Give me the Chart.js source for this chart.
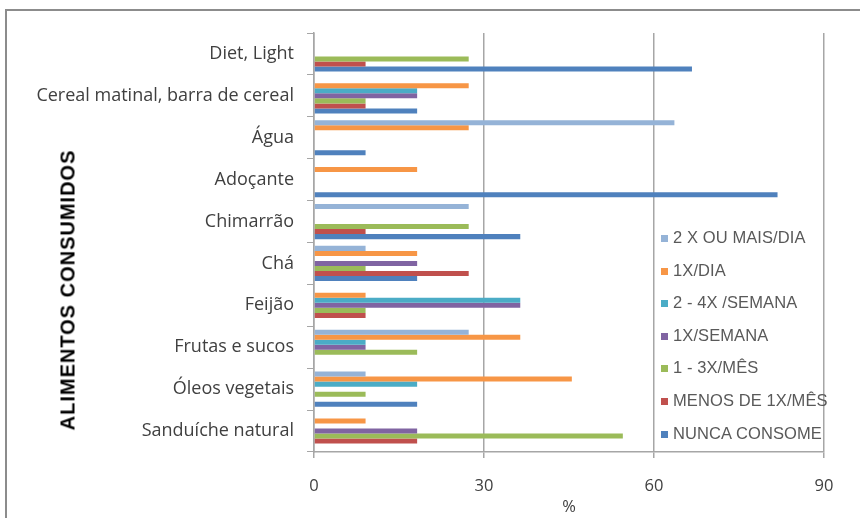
<!DOCTYPE html>
<html>
<head>
<meta charset="utf-8">
<script src="https://cdn.jsdelivr.net/npm/chart.js@4.4.1/dist/chart.umd.min.js"></script>
<style>
    html, body {
        margin: 0;
        padding: 0;
        background: #fff;
    }
    #wrap {
        position: relative;
        width: 860px;
        height: 518px;
        overflow: hidden;
    }
    #frame {
        position: absolute;
        left: 5px;
        top: 9px;
        width: 900px;
        height: 600px;
        border: 2px solid #8c8c8c;
        box-sizing: border-box;
    }
    #chart {
        position: absolute;
        left: 0;
        top: 0;
    }
    #ytitle {
        position: absolute;
        left: 68px;
        top: 290px;
        transform: translate(-50%, -50%) rotate(-90deg);
        font: bold 20px "Liberation Sans", Arial, sans-serif;
        letter-spacing: 1px;
        color: #000;
        white-space: nowrap;
    }
    #legend {
        position: absolute;
        left: 661px;
        top: 228px;
    }
    .legend-item {
        height: 32.6px;
        line-height: 32.6px;
        font: 16.5px "Liberation Sans", Arial, sans-serif;
        letter-spacing: 0.1px;
        color: #595959;
        white-space: nowrap;
    }
    .legend-box {
        display: inline-block;
        width: 7px;
        height: 7px;
        margin-right: 5px;
        vertical-align: 1px;
    }
</style>
</head>
<body>
<div id="wrap">
    <div id="frame"></div>
    <canvas id="chart" width="860" height="518"></canvas>
    <div id="ytitle">ALIMENTOS CONSUMIDOS</div>
    <div id="legend"></div>
</div>
<script>
// Consumo de alimentos por frequência (%)

const categories = [
    'Diet, Light',
    'Cereal matinal, barra de cereal',
    'Água',
    'Adoçante',
    'Chimarrão',
    'Chá',
    'Feijão',
    'Frutas e sucos',
    'Óleos vegetais',
    'Sanduíche natural'
];

const seriesNames = [
    '2 X OU MAIS/DIA',
    '1X/DIA',
    '2 - 4X /SEMANA',
    '1X/SEMANA',
    '1 - 3X/MÊS',
    'MENOS DE 1X/MÊS',
    'NUNCA CONSOME'
];

const seriesColors = ['#95b3d7', '#f79646', '#4bacc6', '#8064a2', '#9bbb59', '#c0504d', '#4f81bd'];

// one array per frequency, values follow the categories order
const duasOuMaisDia = [0, 0, 63.6, 0, 27.3, 9.1, 0, 27.3, 9.1, 0];
const umaDia = [0, 27.3, 27.3, 18.2, 0, 18.2, 9.1, 36.4, 45.5, 9.1];
const duasQuatroSemana = [0, 18.2, 0, 0, 0, 0, 36.4, 9.1, 18.2, 0];
const umaSemana = [0, 18.2, 0, 0, 0, 18.2, 36.4, 9.1, 0, 18.2];
const umaTresMes = [27.3, 9.1, 0, 0, 27.3, 9.1, 9.1, 18.2, 9.1, 54.5];
const menosUmaMes = [9.1, 9.1, 0, 0, 9.1, 27.3, 9.1, 0, 0, 18.2];
const nuncaConsome = [66.7, 18.2, 9.1, 81.8, 36.4, 18.2, 0, 0, 18.2, 0];

const seriesValues = [duasOuMaisDia, umaDia, duasQuatroSemana, umaSemana, umaTresMes, menosUmaMes, nuncaConsome];

const xTicks = [0, 30, 60, 90];

const axisGray = '#a6a6a6';
const labelFont = { family: '"Open Sans", Lato, sans-serif', size: 18 };
const tickFont = { family: '"Open Sans", Lato, sans-serif', size: 16.5 };

const datasets = seriesNames.map((name, i) => ({
    label: name,
    data: seriesValues[i],
    backgroundColor: seriesColors[i],
    borderWidth: 0,
    barPercentage: 1,
    categoryPercentage: 0.84
}));

// legend drawn as html so it can sit over the plot like the original
const legend = document.getElementById('legend');
legend.innerHTML = seriesNames.map((name, i) => `
    <div class="legend-item"><span class="legend-box" style="background:${seriesColors[i]}"></span>${name}</div>
`).join('');

new Chart(document.getElementById('chart').getContext('2d'), {
    type: 'bar',
    data: { labels: categories, datasets: datasets },
    options: {
        indexAxis: 'y',
        responsive: false,
        animation: false,
        layout: { padding: { top: 33, right: 36, left: 0, bottom: 0 } },
        plugins: {
            legend: { display: false },
            tooltip: { enabled: false }
        },
        scales: {
            y: {
                afterFit: scale => { scale.width = 314; },
                grid: {
                    drawOnChartArea: false,
                    tickLength: 7,
                    color: axisGray
                },
                border: { color: axisGray, width: 1.5 },
                ticks: {
                    color: '#404040',
                    font: labelFont,
                    padding: 13,
                    autoSkip: false
                }
            },
            x: {
                min: 0,
                max: 90,
                afterFit: scale => { scale.height = 66; },
                afterBuildTicks: scale => { scale.ticks = xTicks.map(v => ({ value: v })); },
                grid: {
                    color: axisGray,
                    lineWidth: 1.5,
                    tickLength: 6
                },
                border: { color: axisGray, width: 1.5 },
                ticks: {
                    color: '#404040',
                    font: tickFont,
                    padding: 18
                },
                title: {
                    display: true,
                    text: '%',
                    color: '#404040',
                    font: tickFont,
                    padding: { top: 0, bottom: 1 }
                }
            }
        }
    }
});
</script>
</body>
</html>
